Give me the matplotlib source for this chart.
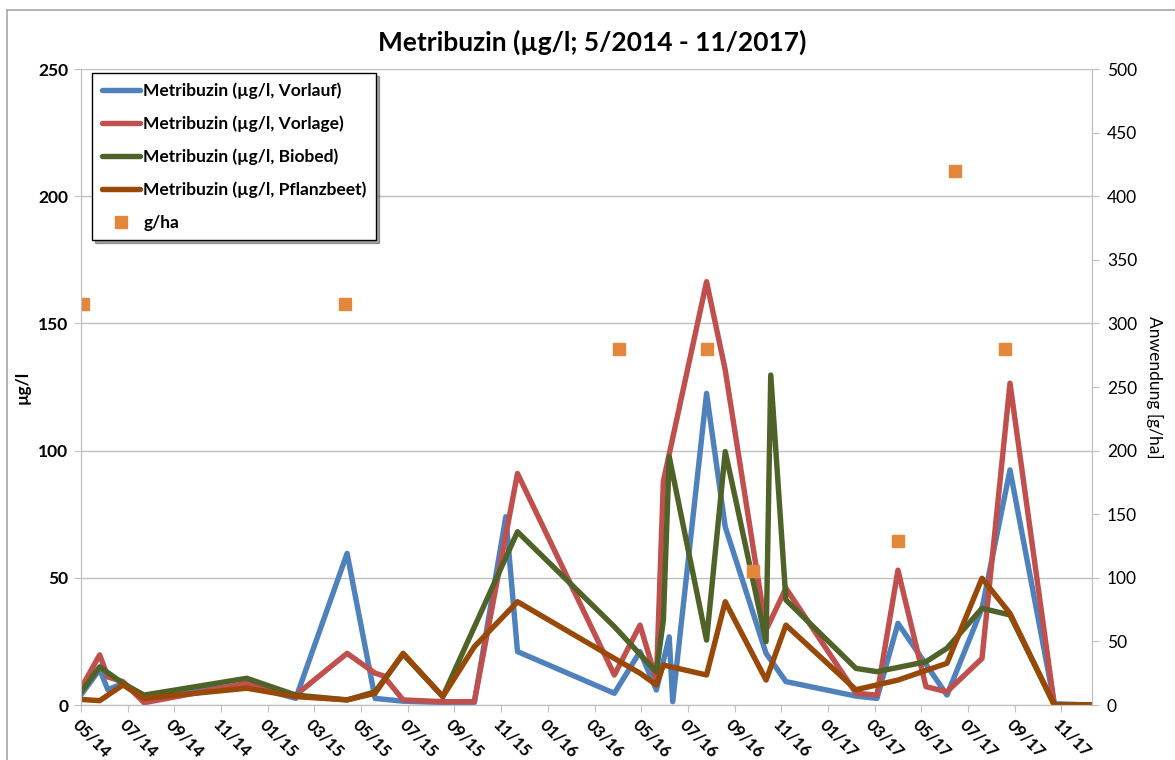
import numpy as np
import matplotlib
matplotlib.use('Agg')
import matplotlib.pyplot as plt
from matplotlib.lines import Line2D

plt.rcParams['font.family'] = ['Lato', 'DejaVu Sans']

nan = np.nan

# months since 05/2014 (sampling dates)
months = [0.0, 0.8, 1.15, 1.8, 2.7, 7.1, 9.2, 11.4, 12.6, 12.95, 13.8, 15.5, 16.85, 18.2, 18.7,
          22.85, 23.95, 24.65, 24.95, 25.2, 25.35, 26.8, 27.6, 28.05, 29.35, 29.55, 30.2,
          33.2, 34.1, 35.0, 36.2, 37.1, 38.6, 39.8, 41.7, 43.3]

vorlauf = [4, 14, 6, 8.5, 3, 8, 2.6, 59.6, 2.6, nan, 1.5, 1, 1, 74, 21,
           4.6, 21, 5.9, nan, 26.8, 1.3, 122.5, 70, nan, 20.3, nan, 9.2,
           3.5, 2.6, 32.1, nan, 3.9, 38, 92.4, 0.5, 0]
vorlage = [6.6, 19.7, 11, 9.2, 0.9, 8.5, 3.9, 20.3, 12.5, 11.5, 2, 1.3, 1.3, nan, 91,
           11.8, 31.4, 9.8, 88, nan, nan, 166.4, 131.7, nan, 29.5, nan, 45.9,
           4.6, 3.9, 53, 7.2, 5.2, 18.3, 126.5, 0, 0]
biobed = [5, 15, nan, 8.5, 3.9, 10.5, 3.9, 2, 5.2, nan, 20, 3.3, nan, nan, 68.1,
          30.8, nan, 13, 33.4, 97.6, nan, 25.5, 99.6, 80.6, 24.9, 129.7, 41.3,
          14.4, 13.1, nan, 17, 22.3, 38, 35.4, 0, 0]
pflanzbeet = [2.2, 1.7, nan, 7.9, 2.6, 6.6, 3.3, 2, 4.6, nan, 20.3, 3.3, 22.9, nan, 40.6,
              18.3, 12.5, 7.9, 15.7, nan, nan, 11.8, 40.6, nan, 9.8, nan, 31.4,
              6, nan, 9.8, nan, 16.4, 49.8, 36, 0, 0]

gha_months = [0.1, 11.3, 23.07, 26.8, 28.77, 35.0, 37.44, 39.6]
gha = [315, 315, 280, 280, 105, 129, 420, 280]

tick_labels = ['05/14', '07/14', '09/14', '11/14', '01/15', '03/15', '05/15', '07/15',
               '09/15', '11/15', '01/16', '03/16', '05/16', '07/16', '09/16', '11/16',
               '01/17', '03/17', '05/17', '07/17', '09/17', '11/17']

series = [
    ('Metribuzin (µg/l, Vorlauf)', vorlauf, '#4F81BD'),
    ('Metribuzin (µg/l, Vorlage)', vorlage, '#C0504D'),
    ('Metribuzin (µg/l, Biobed)', biobed, '#4F6228'),
    ('Metribuzin (µg/l, Pflanzbeet)', pflanzbeet, '#984807'),
]

fig = plt.figure(figsize=(11.75, 7.6), dpi=100)
ax = fig.add_axes([81 / 1175, 1 - 705 / 760, (1091.7 - 81) / 1175, (705 - 69) / 760])

m = np.array(months)
handles = []
for name, vals, col in series:
    v = np.array(vals, dtype=float)
    ok = ~np.isnan(v)
    ln, = ax.plot(m[ok], v[ok], color=col, lw=3.9, solid_joinstyle='round',
                  solid_capstyle='round', label=name)
    handles.append(ln)

ax.set_xlim(0, 43.3)
ax.set_ylim(0, 250)
ax.set_yticks(np.arange(0, 251, 50))
ax.yaxis.grid(True, color='#BFBFBF', lw=1)
ax.set_axisbelow(True)
ax.set_xticks(np.arange(0, 43, 2))
ax.set_xticklabels(tick_labels, rotation=-45, ha='left', va='top',
                   rotation_mode='anchor', fontsize=12, fontweight='bold')
for lab in ax.get_yticklabels():
    lab.set_fontweight('bold')
ax.tick_params(axis='y', labelsize=12.5, length=5, color='#BFBFBF', pad=4)
ax.tick_params(axis='x', length=5, color='#BFBFBF', pad=3)
for s in ['left', 'bottom', 'right']:
    ax.spines[s].set_color('#BFBFBF')
ax.spines['top'].set_visible(False)
ax.set_ylabel('µg/l', fontsize=12.5, fontweight='bold')
ax.yaxis.set_label_coords(-0.05, 0.5)

ax2 = ax.twinx()
sq, = ax2.plot(gha_months, gha, ls='none', marker='s', ms=9, color='#E3873B', label='g/ha')
ax2.set_ylim(0, 500)
ax2.set_yticks(np.arange(0, 501, 50))
ax2.tick_params(axis='y', labelsize=12.5, length=5, color='#BFBFBF', pad=6)
for s in ['left', 'bottom', 'right']:
    ax2.spines[s].set_color('#BFBFBF')
ax2.spines['top'].set_visible(False)
ax2.set_ylabel('Anwendung [g/ha]', fontsize=12.5, rotation=-90, va='center')
ax2.yaxis.set_label_coords(1.062, 0.5)

leg = ax2.legend(handles + [sq], [h.get_label() for h in handles] + ['g/ha'],
                 loc='upper left', bbox_to_anchor=(0.011, 0.994), borderaxespad=0,
                 frameon=True, fancybox=False, shadow=True,
                 handlelength=2.2, handletextpad=0.2, labelspacing=0.95,
                 borderpad=0.55, prop={'weight': 'bold', 'size': 12.5})
leg.get_frame().set_edgecolor('black')
leg.get_frame().set_linewidth(1.0)

fig.text(592 / 1175, 1 - 42 / 760, 'Metribuzin (µg/l; 5/2014 - 11/2017)',
         ha='center', va='center', fontsize=19, fontweight='bold')

# chart area border
fig.add_artist(Line2D([7 / 1175, 7 / 1175], [0, 1 - 10 / 760], color='#A6A6A6', lw=1.2))
fig.add_artist(Line2D([7 / 1175, 1], [1 - 10 / 760, 1 - 10 / 760], color='#A6A6A6', lw=1.2))

fig.savefig('out.png', dpi=100)
